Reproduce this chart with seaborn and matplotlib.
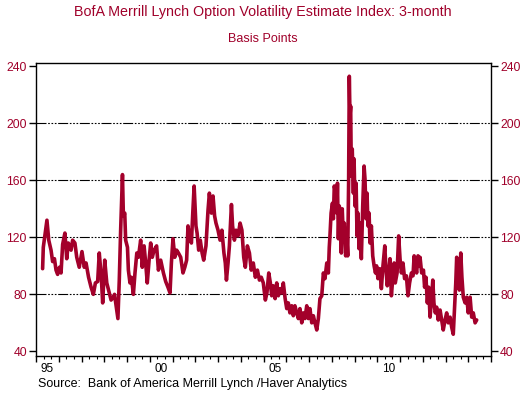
import matplotlib
matplotlib.use("Agg")
import matplotlib.pyplot as plt
import seaborn as sns
import pandas as pd

# decimal year of each reading
years = [
    1995.29, 1995.32, 1995.48, 1995.56, 1995.66, 1995.73, 1995.81, 1995.88, 1995.95, 1996.03,
    1996.10, 1996.17, 1996.27, 1996.35, 1996.42, 1996.54, 1996.61, 1996.71, 1996.79, 1996.90,
    1997.02, 1997.12, 1997.20, 1997.31, 1997.42, 1997.52, 1997.61, 1997.71, 1997.78, 1997.87,
    1997.93, 1998.02, 1998.11, 1998.19, 1998.30, 1998.40, 1998.45, 1998.52, 1998.60, 1998.66,
    1998.72, 1998.80, 1998.84, 1998.90, 1998.94, 1999.02, 1999.06, 1999.13, 1999.19, 1999.28,
    1999.35, 1999.43, 1999.50, 1999.60, 1999.67, 1999.75, 1999.82, 1999.89, 1999.97, 2000.04,
    2000.11, 2000.19, 2000.30, 2000.38, 2000.48, 2000.60, 2000.70, 2000.80, 2000.89, 2000.95,
    2001.02, 2001.10, 2001.18, 2001.26, 2001.36, 2001.46, 2001.54, 2001.62, 2001.68, 2001.74,
    2001.83, 2001.89, 2001.95, 2002.03, 2002.08, 2002.15, 2002.22, 2002.30, 2002.37, 2002.47,
    2002.56, 2002.62, 2002.71, 2002.78, 2002.85, 2002.91, 2003.00, 2003.09, 2003.17, 2003.26,
    2003.32, 2003.37, 2003.44, 2003.50, 2003.59, 2003.64, 2003.72, 2003.79, 2003.88, 2003.97,
    2004.05, 2004.13, 2004.20, 2004.29, 2004.38, 2004.46, 2004.55, 2004.64, 2004.73, 2004.82,
    2004.90, 2004.99, 2005.08, 2005.15, 2005.23, 2005.30, 2005.36, 2005.43, 2005.51, 2005.58,
    2005.65, 2005.73, 2005.80, 2005.87, 2005.95, 2006.02, 2006.09, 2006.16, 2006.24, 2006.31,
    2006.38, 2006.46, 2006.53, 2006.60, 2006.68, 2006.75, 2006.82, 2006.90, 2006.97, 2007.04,
    2007.12, 2007.19, 2007.26, 2007.34, 2007.41, 2007.48, 2007.56, 2007.63, 2007.70, 2007.78,
    2007.85, 2007.89, 2007.92, 2007.97, 2008.03, 2008.07, 2008.11, 2008.17, 2008.22, 2008.25,
    2008.29, 2008.33, 2008.38, 2008.42, 2008.46, 2008.51, 2008.55, 2008.61, 2008.66, 2008.70,
    2008.74, 2008.77, 2008.80, 2008.83, 2008.86, 2008.90, 2008.95, 2008.98, 2009.02, 2009.07,
    2009.11, 2009.15, 2009.20, 2009.24, 2009.30, 2009.36, 2009.42, 2009.46, 2009.51, 2009.55,
    2009.59, 2009.64, 2009.68, 2009.74, 2009.80, 2009.86, 2009.92, 2009.97, 2010.03, 2010.11,
    2010.18, 2010.25, 2010.33, 2010.38, 2010.44, 2010.50, 2010.56, 2010.62, 2010.68, 2010.74,
    2010.79, 2010.87, 2010.94, 2011.00, 2011.06, 2011.13, 2011.20, 2011.28, 2011.35, 2011.42,
    2011.50, 2011.57, 2011.62, 2011.67, 2011.73, 2011.79, 2011.84, 2011.88, 2011.95, 2012.03,
    2012.08, 2012.14, 2012.20, 2012.26, 2012.32, 2012.38, 2012.44, 2012.49, 2012.55, 2012.61,
    2012.68, 2012.76, 2012.83, 2012.90, 2012.98, 2013.05, 2013.12, 2013.20, 2013.27, 2013.34,
    2013.40, 2013.45, 2013.49, 2013.55, 2013.61, 2013.67, 2013.72, 2013.78, 2013.86, 2013.93,
    2014.00, 2014.08, 2014.15, 2014.22, 2014.30, 2014.37,
]

# index level in basis points
bp = [
    98, 113, 132, 118, 111, 103, 105, 97, 94, 99,
    95, 115, 123, 105, 116, 111, 118, 116, 106, 99,
    110, 99, 102, 92, 85, 80, 88, 89, 109, 92,
    74, 104, 88, 83, 76, 78, 80, 72, 63, 90,
    125, 164, 135, 137, 118, 113, 97, 88, 92, 80,
    95, 109, 106, 118, 99, 114, 102, 88, 104, 116,
    106, 111, 114, 97, 104, 95, 89, 85, 81, 102,
    119, 106, 111, 109, 106, 95, 99, 104, 128, 121,
    116, 137, 156, 128, 123, 111, 118, 109, 104, 114,
    139, 151, 137, 149, 135, 130, 125, 118, 125, 109,
    102, 90, 102, 114, 143, 128, 118, 125, 121, 130,
    125, 106, 99, 114, 109, 97, 102, 92, 97, 90,
    92, 88, 76, 81, 95, 88, 79, 86, 77, 88,
    79, 84, 81, 88, 77, 70, 74, 67, 72, 65,
    72, 67, 63, 70, 60, 67, 63, 72, 63, 70,
    60, 65, 60, 55, 63, 77, 79, 95, 91, 102,
    95, 113, 121, 137, 144, 133, 156, 151, 137, 158,
    119, 142, 123, 109, 140, 119, 130, 107, 121, 107,
    158, 233, 205, 212, 163, 182, 151, 175, 142, 158,
    121, 137, 112, 130, 105, 142, 170, 161, 133, 151,
    128, 137, 116, 128, 107, 100, 95, 100, 91, 98,
    84, 100, 114, 98, 86, 95, 105, 79, 91, 102,
    88, 95, 121, 105, 95, 102, 91, 93, 79, 88,
    95, 93, 107, 100, 95, 107, 100, 106, 95, 97,
    85, 92, 74, 85, 64, 76, 90, 74, 67, 71,
    62, 69, 62, 55, 62, 67, 60, 64, 57, 52,
    71, 88, 106, 97, 83, 109, 92, 78, 74, 78,
    67, 78, 64, 67, 60, 62,
]

grid_levels = [80, 120, 160, 200]
y_ticks = [40, 80, 120, 160, 200, 240]
label_years = [1995, 2000, 2005, 2010]
label_text = ["95", "00", "05", "10"]

df = pd.DataFrame({"year": years, "bp": bp})

red = "#a3002b"
txt_red = "#a0002a"

sns.set_style("white")
plt.rcParams["font.family"] = ["Liberation Sans", "DejaVu Sans"]

fig = plt.figure(figsize=(5.25, 3.98), dpi=100)
ax = fig.add_axes([0.0686, 0.1043, 0.8667, 0.7374])

for lvl in grid_levels:
    ax.axhline(lvl, color="black", lw=0.8,
               linestyle=(0, (9, 1.5, 1.5, 1.5, 1.5, 1.5, 1.5, 1.5)), zorder=1)

sns.lineplot(data=df, x="year", y="bp", color=red, lw=2.6, estimator=None,
             ax=ax, zorder=3)

ax.set_xlim(1995, 2015)
ax.set_ylim(36.4, 242.3)
ax.set_xlabel("")
ax.set_ylabel("")

for s in ax.spines.values():
    s.set_color("black")
    s.set_linewidth(1)

ax.set_yticks(y_ticks)
ax.tick_params(axis="y", which="both", left=True, right=True, labelleft=True,
               labelright=True, length=5, width=1, color="black",
               labelcolor=txt_red, labelsize=8.8, pad=1.5, direction="out")

ax.set_xticks(range(1995, 2016))
ax.set_xticklabels([])
ax.set_xticks([1995 + i / 3 for i in range(61)], minor=True)
ax.tick_params(axis="x", which="major", length=4.5, width=1, color="black",
               direction="out", bottom=True)
ax.tick_params(axis="x", which="minor", length=2.5, width=0.8, color="black",
               direction="out", bottom=True)

for yr, lab in zip(label_years, label_text):
    ax.text(yr + 0.5, -0.043, lab, transform=ax.get_xaxis_transform(),
            ha="center", va="center", fontsize=8.5, color="black")

fig.text(0.5, 0.97, "BofA Merrill Lynch Option Volatility Estimate Index: 3-month",
         ha="center", va="center", fontsize=10.3, color=txt_red)
fig.text(0.5, 0.902, "Basis Points", ha="center", va="center", fontsize=9,
         color=txt_red)
fig.text(0.072, 0.036, "Source:  Bank of America Merrill Lynch /Haver Analytics",
         ha="left", va="center", fontsize=9, color="black")

fig.savefig("out.png", dpi=100)
